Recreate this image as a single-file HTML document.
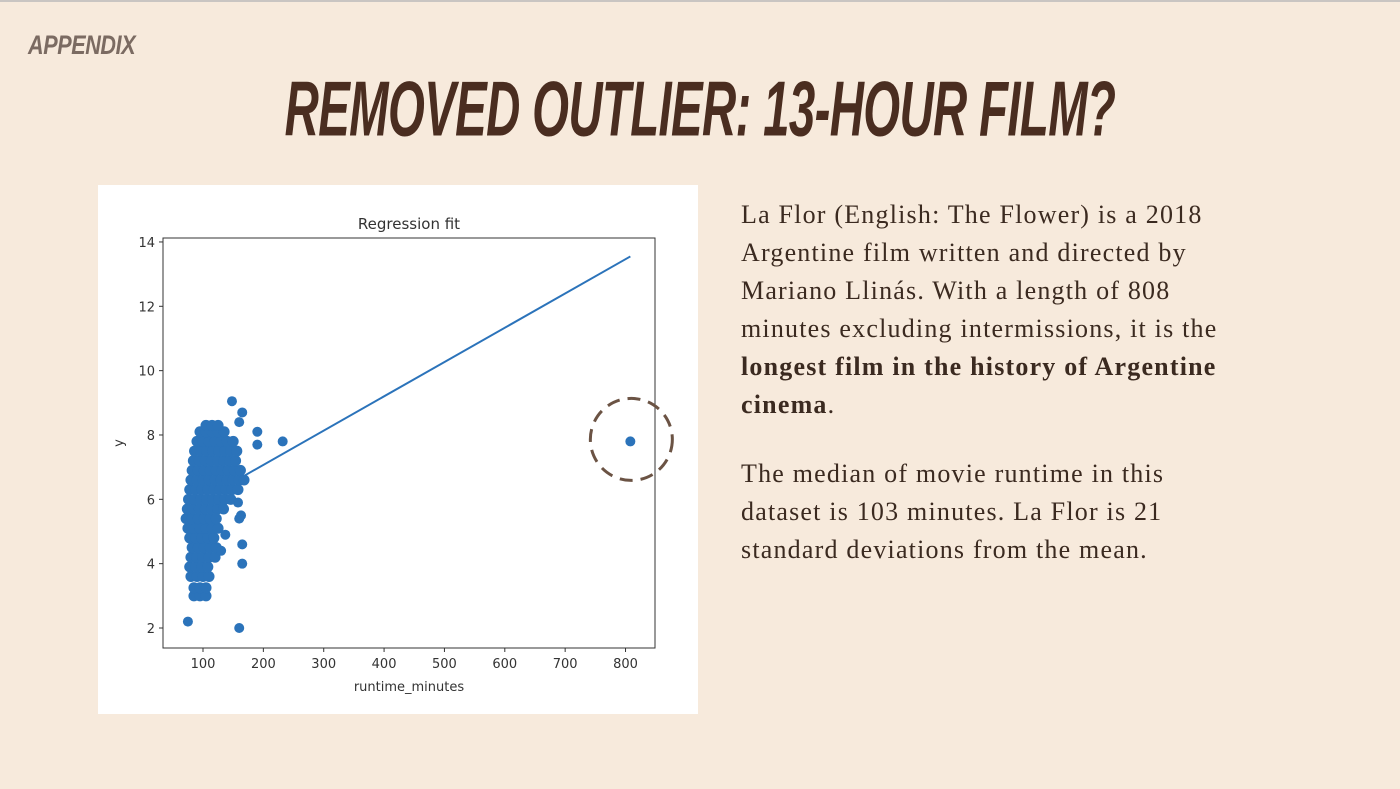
<!DOCTYPE html>
<html><head><meta charset="utf-8">
<style>
html,body{margin:0;padding:0}
body{width:1400px;height:789px;background:#f7eadc;position:relative;overflow:hidden;font-family:"Liberation Serif",serif}
#topline{position:absolute;left:0;top:0;width:1400px;height:2px;background:#c9c5c2}
#appendix{position:absolute;left:28px;top:30px;font-family:"Liberation Sans Narrow","Liberation Sans",sans-serif;font-weight:bold;font-style:italic;font-size:27px;color:#7b6b62;transform:scaleX(0.8);transform-origin:left top;letter-spacing:-0.5px}
#title{position:absolute;left:0;width:1400px;top:66px;text-align:center;font-family:"Liberation Sans Narrow","Liberation Sans",sans-serif;font-weight:bold;font-style:italic;font-size:74px;color:#4a2d20;transform:scale(0.64,1.05);letter-spacing:-1px;white-space:nowrap}
#desc{position:absolute;left:741px;top:196px;width:620px;font-size:26px;line-height:38px;color:#3b2a20;letter-spacing:1.2px;white-space:nowrap}
#desc p{margin:0 0 31px 0}
#chartbox{position:absolute;left:98px;top:185px;width:600px;height:529px;background:#fff}
</style></head><body>
<div id="topline"></div>
<div id="appendix">APPENDIX</div>
<div id="title">REMOVED OUTLIER: 13-HOUR FILM?</div>
<div id="chartbox">
<svg id="svg" width="600" height="529" xmlns="http://www.w3.org/2000/svg"></svg>
</div>
<div id="desc">
<p>La Flor (English: The Flower) is a 2018<br>Argentine film written and directed by<br>Mariano Llinás. With a length of 808<br>minutes excluding intermissions, it is the<br><b>longest film in the history of Argentine<br>cinema</b>.</p>
<p>The median of movie runtime in this<br>dataset is 103 minutes. La Flor is 21<br>standard deviations from the mean.</p>
</div>
<script>
const xTicks=[100,200,300,400,500,600,700,800];
const yTicks=[2,4,6,8,10,12,14];
const blobRows=[3.0,3.25,3.6,3.9,4.2,4.5,4.8,5.1,5.4,5.7,6.0,6.3,6.6,6.9,7.2,7.5,7.8,8.1,8.3];
const blobX=[
[85,95,105],[85,95,105],[80,90,100,110],[78,88,98,108],[80,90,100,110,120],
[82,92,102,112,122],[78,88,98,108,118],[75,85,95,105,115,125],[72,82,92,102,112,122],
[74,84,94,104,114,124,134],[76,86,96,106,116,126,136,146],[78,88,98,108,118,128,138,148,158],
[80,90,100,110,120,130,140,150,160,168],[82,92,102,112,122,132,142,152,162],
[84,94,104,114,124,134,144,154],[86,96,106,116,126,136,146,156],[90,100,110,120,130,140,150],
[95,105,115,125,135],[105,115,125]];
const outX=[148,165,160,190,190,232,158,163,160,165,165,137,130,75,160,808];
const outY=[9.05,8.7,8.4,8.1,7.7,7.8,5.9,5.5,5.4,4.6,4.0,4.9,4.4,2.2,2.0,7.8];
const fitX=[170,808];
const fitY=[6.75,13.55];

const NS="http://www.w3.org/2000/svg";
const svg=document.getElementById('svg');
const L=65,R=557,T=53,B=463;
const sx=v=>105+(v-100)*0.6036;
const sy=v=>443-(v-2)*32.17;
function mk(tag,attrs){const e=document.createElementNS(NS,tag);for(const k in attrs)e.setAttribute(k,attrs[k]);svg.appendChild(e);return e;}

let t=mk('text',{x:(L+R)/2,y:44,'text-anchor':'middle','font-family':'DejaVu Sans, sans-serif','font-size':15,fill:'#333'});
t.textContent='Regression fit';



xTicks.forEach(v=>{
 const l=mk('line',{x1:sx(v),x2:sx(v),y1:B,y2:B+4,stroke:'#333'});
 
 
 const tx=mk('text',{x:sx(v),y:B+20,'text-anchor':'middle','font-family':'DejaVu Sans, sans-serif','font-size':13,fill:'#333'});
 tx.textContent=v;
 
 
});
yTicks.forEach(v=>{
 const l=mk('line',{x1:L-4,x2:L,y1:sy(v),y2:sy(v),stroke:'#333'});
 
 
 const tx=mk('text',{x:L-8,y:sy(v)+5,'text-anchor':'end','font-family':'DejaVu Sans, sans-serif','font-size':13,fill:'#333'});
 tx.textContent=v;
 
 
});
let xl=mk('text',{x:(L+R)/2,y:B+43,'text-anchor':'middle','font-family':'DejaVu Sans, sans-serif','font-size':13,fill:'#333'});
xl.textContent='runtime_minutes';


let yl=mk('text',{x:0,y:0,transform:`translate(${L-40},${(T+B)/2}) rotate(-90)`,'text-anchor':'middle','font-family':'DejaVu Sans, sans-serif','font-size':13,fill:'#333'});
yl.textContent='y';



blobRows.forEach((yv,i)=>{
 blobX[i].forEach(xv=>{
  const c=mk('circle',{cx:sx(xv),cy:sy(yv),r:5.5,fill:'#2b73ba'});
  
  
 });
});
outX.forEach((xv,i)=>{
 const c=mk('circle',{cx:sx(xv),cy:sy(outY[i]),r:5,fill:'#2b73ba'});
 
 
});
let fl=mk('line',{x1:sx(fitX[0]),y1:sy(fitY[0]),x2:sx(fitX[1]),y2:sy(fitY[1]),stroke:'#2b73ba','stroke-width':2});



let fr=mk('rect',{x:L,y:T,width:R-L,height:B-T,fill:'none',stroke:'#333','stroke-width':1});



let dc=mk('circle',{cx:sx(808)+1,cy:sy(7.8)-2,r:41,fill:'none',stroke:'#6b5344','stroke-width':3,'stroke-dasharray':'13 8'});


</script>
</body></html>
